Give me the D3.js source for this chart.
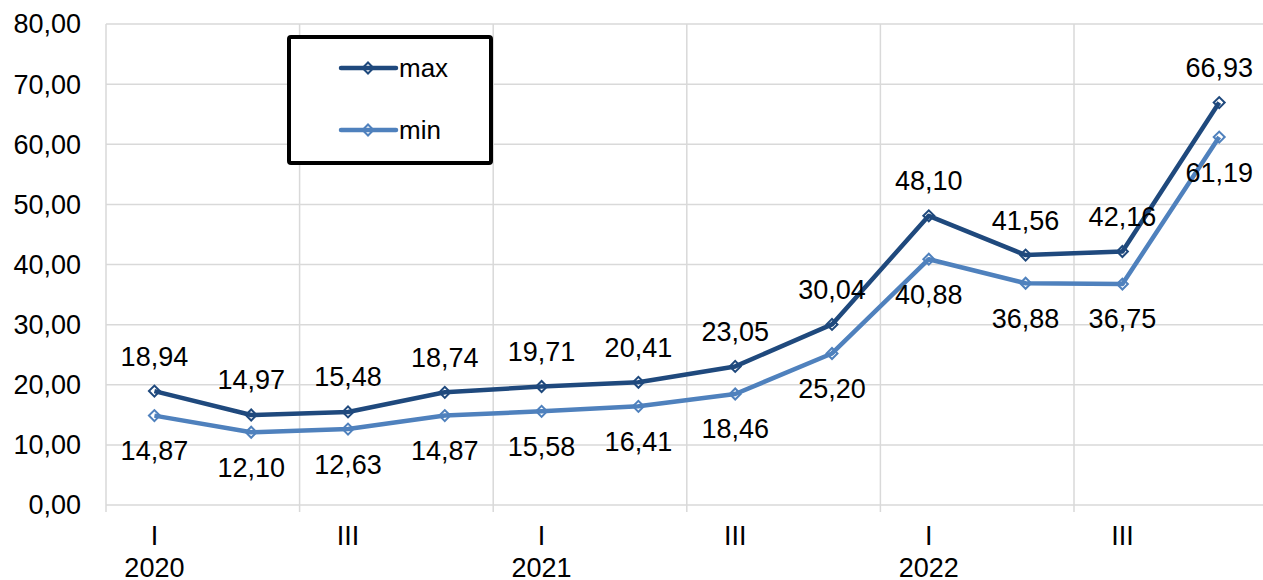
<!DOCTYPE html>
<html>
<head>
<meta charset="utf-8">
<script src="https://cdn.jsdelivr.net/npm/d3@7"></script>
<style>
html,body{margin:0;padding:0;background:#fff;}
svg{display:block;font-family:"Liberation Sans",Arial,sans-serif;}
</style>
</head>
<body>
<svg id="chart" width="1263" height="580"></svg>
<script>
const quarters = ["I","II","III","IV","I","II","III","IV","I","II","III","IV"];
const years = ["2020","2021","2022"];
const maxValues = [18.94,14.97,15.48,18.74,19.71,20.41,23.05,30.04,48.10,41.56,42.16,66.93];
const minValues = [14.87,12.10,12.63,14.87,15.58,16.41,18.46,25.20,40.88,36.88,36.75,61.19];
const yTicks = [0,10,20,30,40,50,60,70,80];
const seriesNames = ["max","min"];

(function(){
const svg = d3.select("#chart");
const pLeft = 106, pTop = 24, pBottom = 505;
const step = 96.8;
const n = quarters.length;
const pRight = pLeft + step*n;
const fmt = v => d3.format(".2f")(v).replace(".", ",");

const x = d3.scaleBand().domain(d3.range(n)).range([pLeft, pRight]).padding(0);
const y = d3.scaleLinear().domain([0,80]).range([pBottom, pTop]);
const cx = i => x(i) + x.bandwidth()/2;
const edge = i => i >= n ? pRight : x(i);

const grid = "#d9d9d9";
svg.append("g").selectAll("line").data(yTicks).join("line")
  .attr("x1", pLeft).attr("x2", pRight)
  .attr("y1", d => y(d)).attr("y2", d => y(d))
  .attr("stroke", grid).attr("stroke-width", 1.5);
const vIdx = d3.range(0, n+1, 2);
svg.append("g").selectAll("line").data(vIdx).join("line")
  .attr("x1", d => edge(d)).attr("x2", d => edge(d))
  .attr("y1", pTop).attr("y2", pBottom + 7)
  .attr("stroke", grid).attr("stroke-width", 1.5);

svg.append("g").selectAll("text").data(yTicks).join("text")
  .attr("x", 81).attr("y", d => y(d)).attr("dy", "0.35em")
  .attr("text-anchor", "end").attr("font-size", 27).attr("fill", "#000")
  .text(d => fmt(d));

svg.append("g").selectAll("text").data(d3.range(0, n, 2)).join("text")
  .attr("x", d => cx(d)).attr("y", 545)
  .attr("text-anchor", "middle").attr("font-size", 27)
  .text(d => quarters[d]);
svg.append("g").selectAll("text").data(years).join("text")
  .attr("x", (d,i) => cx(i*4)).attr("y", 577)
  .attr("text-anchor", "middle").attr("font-size", 27)
  .text(d => d);

const colors = {max: "#1f497d", min: "#4f81bd"};
const line = d3.line().x((d,i) => cx(i)).y(d => y(d));
const mk = d3.symbol().type(d3.symbolSquare).size(60);

function drawSeries(vals, color) {
  const g = svg.append("g");
  g.selectAll("path.mk").data(vals).join("path").attr("class","mk")
    .attr("d", mk)
    .attr("transform", (d,i) => `translate(${cx(i)},${y(d)}) rotate(45)`)
    .attr("fill", "#fff").attr("stroke", color).attr("stroke-width", 2);
  g.append("path").datum(vals).attr("d", line)
    .attr("fill", "none").attr("stroke", color).attr("stroke-width", 4.5)
    .attr("stroke-linejoin", "round");
}
drawSeries(maxValues, colors.max);
drawSeries(minValues, colors.min);

svg.append("g").selectAll("text").data(maxValues).join("text")
  .attr("x", (d,i) => cx(i)).attr("y", d => y(d) - 35).attr("dy", "0.35em")
  .attr("text-anchor", "middle").attr("font-size", 27)
  .text(d => fmt(d));
svg.append("g").selectAll("text").data(minValues).join("text")
  .attr("x", (d,i) => cx(i)).attr("y", d => y(d) + 35).attr("dy", "0.35em")
  .attr("text-anchor", "middle").attr("font-size", 27)
  .text(d => fmt(d));

const lg = svg.append("g");
lg.append("rect").attr("x", 289).attr("y", 37).attr("width", 202).attr("height", 126)
  .attr("rx", 2).attr("fill", "#fff").attr("stroke", "#000").attr("stroke-width", 4);
seriesNames.forEach((name, k) => {
  const ly = k === 0 ? 68 : 130;
  lg.append("path").attr("d", mk)
    .attr("transform", `translate(368,${ly}) rotate(45)`)
    .attr("fill", "#fff").attr("stroke", colors[name]).attr("stroke-width", 2);
  lg.append("line").attr("x1", 341).attr("x2", 396).attr("y1", ly).attr("y2", ly)
    .attr("stroke", colors[name]).attr("stroke-width", 4.5).attr("stroke-linecap", "round");
  lg.append("text").attr("x", 399).attr("y", ly + 9).attr("font-size", 26).text(name);
});
})();
</script>
</body>
</html>
